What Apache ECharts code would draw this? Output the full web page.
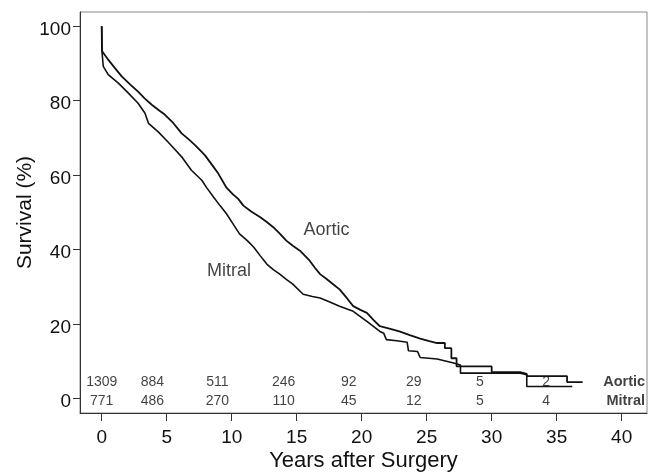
<!DOCTYPE html>
<html>
<head>
<meta charset="utf-8">
<script src="https://cdn.jsdelivr.net/npm/echarts@6/dist/echarts.min.js"></script>
<style>
    html, body { margin: 0; padding: 0; background: #fff; }
    #container { width: 658px; height: 475px; }
</style>
</head>
<body>
<div id="container"></div>
<script>
    // Kaplan-Meier survival, vertices of the curves [years, survival %]
    var aortic = [
        [0, 100], [0.02, 93.3], [0.5, 91.0], [1.0, 88.8], [1.54, 86.5], [2.2, 84.3], [2.8, 82.4],
        [3.3, 80.6], [3.85, 78.9], [4.4, 77.4], [4.87, 76.2], [5.5, 74.0], [6.15, 71.2], [6.7, 69.6],
        [7.2, 68.0], [7.56, 66.7], [7.95, 65.3], [8.6, 62.2], [8.97, 60.4], [9.6, 56.6], [10.1, 54.8],
        [10.5, 53.6], [10.9, 51.8], [11.5, 50.2], [12.2, 48.7], [12.7, 47.4], [13.2, 46.0], [13.7, 44.3],
        [14.2, 42.4], [14.7, 41.0], [15.25, 39.7], [16.0, 37.0], [16.4, 35.1], [16.8, 33.4], [17.3, 32.1],
        [17.8, 30.7], [18.3, 29.3], [18.85, 27.0], [19.35, 24.8], [19.9, 23.8], [20.4, 23.0], [20.9, 21.1],
        [21.4, 19.4], [22.2, 18.7], [22.9, 18.0], [23.7, 17.0], [24.5, 16.1], [25.2, 15.4], [25.8, 14.9],
        [26.4, 14.9], [26.4, 13.5], [26.9, 13.5], [26.9, 10.8], [27.3, 10.8], [27.3, 8.6], [30.0, 8.6],
        [30.0, 7.1], [32.2, 7.1], [32.2, 6.6], [32.7, 6.6], [32.7, 6.0], [35.8, 6.0], [35.8, 4.4], [37.0, 4.4]
    ];
    var mitral = [
        [0, 100], [0.03, 92.8], [0.12, 89.2], [0.5, 87.0], [1.28, 84.7], [2.05, 82.0], [2.8, 79.3],
        [3.33, 76.6], [3.6, 73.9], [4.35, 71.6], [5.1, 68.9], [5.6, 67.0], [6.15, 64.9], [6.9, 61.3],
        [7.7, 58.6], [8.1, 56.5], [8.6, 54.1], [9.1, 51.8], [9.6, 49.6], [10.1, 46.9], [10.6, 44.2],
        [11.2, 42.4], [11.7, 40.6], [12.2, 38.3], [12.7, 36.1], [13.2, 34.6], [13.7, 33.4], [14.2, 32.0],
        [14.7, 30.7], [15.5, 28.0], [16.2, 27.4], [16.8, 27.0], [17.5, 26.0], [18.3, 24.8], [19.35, 23.4],
        [19.9, 22.0], [20.4, 20.7], [21.4, 18.0], [21.7, 17.5], [21.9, 15.8], [22.7, 15.5], [23.5, 15.1],
        [23.6, 12.8], [24.3, 12.6], [24.5, 11.0], [25.8, 10.6], [25.8, 10.1], [27.0, 9.6], [27.0, 9.2],
        [27.6, 9.0], [27.6, 6.8], [32.2, 6.8], [32.2, 6.4], [32.7, 6.4], [32.7, 3.2], [36.2, 3.2]
    ];

    // numbers at risk
    var riskYears = [0, 3.9, 8.9, 14, 19, 24, 29.1, 34.2];
    var aorticRisk = [1309, 884, 511, 246, 92, 29, 5, 2];
    var mitralRisk = [771, 486, 270, 110, 45, 12, 5, 4];

    var xTicks = [0, 5, 10, 15, 20, 25, 30, 35, 40];
    var yTicks = [0, 20, 40, 60, 80, 100];

    var myChart = echarts.init(document.getElementById('container'));
    var font = '"Liberation Sans", Arial, sans-serif';
    var ink = '#111';

    function riskRow(values, y) {
        return values.map(function (v, i) {
            return [riskYears[i], y, String(v)];
        });
    }

    function textSeries(data, size, weight, align) {
        return {
            type: 'scatter',
            data: data,
            symbolSize: 0,
            silent: true,
            label: {
                show: true,
                position: 'inside',
                formatter: function (p) { return p.value[2]; },
                color: ink,
                fontFamily: font,
                fontSize: size,
                fontWeight: weight,
                align: align
            }
        };
    }

    var option = {
        animation: false,
        backgroundColor: '#fff',
        grid: {
            left: 80, top: 12, width: 567, height: 401,
            outerBoundsMode: 'none',
            containLabel: false,
            show: true,
            borderColor: '#8a8a8a',
            borderWidth: 1
        },
        xAxis: {
            type: 'value',
            min: -1.67,
            max: 41.95,
            name: 'Years after Surgery',
            nameLocation: 'middle',
            nameGap: 37,
            nameMoveOverlap: false,
            nameTextStyle: { fontFamily: font, fontSize: 22, color: ink },
            axisLine: { show: true, onZero: false, lineStyle: { color: '#333', width: 1 } },
            axisTick: { show: true, inside: false, length: 8, customValues: xTicks, lineStyle: { color: '#333' } },
            axisLabel: {
                customValues: xTicks, margin: 15,
                fontFamily: font, fontSize: 19, color: ink
            },
            splitLine: { show: false }
        },
        yAxis: {
            type: 'value',
            min: -3.9,
            max: 103.8,
            name: 'Survival (%)',
            nameLocation: 'middle',
            nameGap: 44,
            nameMoveOverlap: false,
            nameTextStyle: { fontFamily: font, fontSize: 21, color: ink },
            axisLine: { show: true, onZero: false, lineStyle: { color: '#333', width: 1 } },
            axisTick: { show: true, inside: false, length: 7, customValues: yTicks, lineStyle: { color: '#333' } },
            axisLabel: {
                customValues: yTicks, margin: 9,
                fontFamily: font, fontSize: 19, color: ink,
                verticalAlign: 'top', lineHeight: 7
            },
            splitLine: { show: false }
        },
        series: [
            {
                name: 'Aortic',
                type: 'line',
                data: aortic,
                showSymbol: false,
                lineStyle: { color: ink, width: 1.8 }
            },
            {
                name: 'Mitral',
                type: 'line',
                data: mitral,
                showSymbol: false,
                lineStyle: { color: ink, width: 1.6 }
            },
            textSeries([[17.3, 45.3, 'Aortic'], [9.8, 34.3, 'Mitral']], 18, 'normal', 'center'),
            textSeries(riskRow(aorticRisk, 4.4), 14, 'normal', 'center'),
            textSeries(riskRow(mitralRisk, -0.7), 14, 'normal', 'center'),
            textSeries([[41.8, 4.4, 'Aortic'], [41.8, -0.7, 'Mitral']], 14.5, 'bold', 'right')
        ]
    };
    myChart.setOption(option);
</script>
</body>
</html>
